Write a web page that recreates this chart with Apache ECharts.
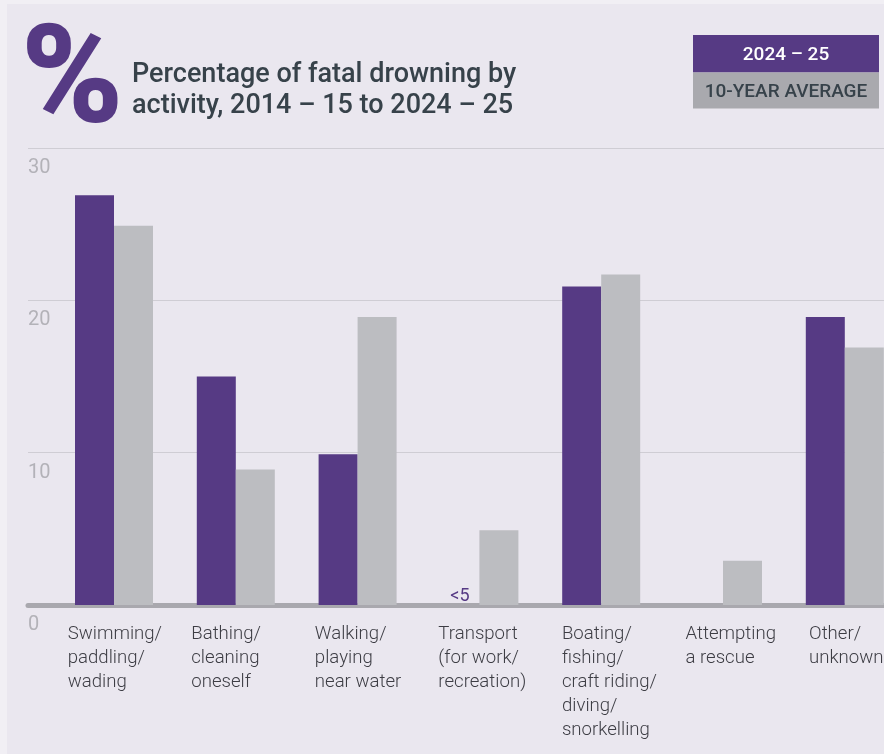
<!DOCTYPE html>
<html>
<head>
<meta charset="utf-8">
<title>Percentage of fatal drowning by activity</title>
<script src="https://cdn.jsdelivr.net/npm/echarts@6/dist/echarts.min.js"></script>
<style>
  html, body { margin: 0; padding: 0; overflow: hidden; background: #eae7ef; }
  /* chart runs past the right edge on purpose, the print version is cropped there */
  #chart { width: 960px; height: 754px; }
</style>
</head>
<body>
<div id="chart"></div>
<script>
// activity categories
const categories = [
  'Swimming/\npaddling/\nwading',
  'Bathing/\ncleaning\noneself',
  'Walking/\nplaying\nnear water',
  'Transport\n(for work/\nrecreation)',
  'Boating/\nfishing/\ncraft riding/\ndiving/\nsnorkelling',
  'Attempting\na rescue',
  'Other/\nunknown'
];
// 2024 – 25 share (%), null = not shown
const season2425 = [26.9, 15.0, 9.9, null, 20.9, null, 18.9];
// small values printed as text instead of a bar
const season2425Notes = [null, null, null, '<5', null, null, null];
// 10-year average share (%)
const tenYearAvg = [24.9, 8.9, 18.9, 4.9, 21.7, 2.9, 16.9];
// y axis
const yMin = 0;
const yMax = 30;
const yStep = 10;

const PURPLE = '#563a84';
const BAR_GREY = '#bcbdc1';
const LEGEND_GREY = '#a9a9ae';
const DARK = '#37424a';

const chart = echarts.init(document.getElementById('chart'));

const purpleData = season2425.map((v, i) => {
  if (season2425Notes[i]) {
    return {
      value: 0,
      label: {
        show: true,
        position: 'top',
        distance: 0,
        formatter: season2425Notes[i],
        color: PURPLE,
        fontSize: 18,
        fontFamily: 'Roboto'
      }
    };
  }
  return v === null ? '-' : v;
});

const gridTop = 148;
const gridBottom = 149;

const option = {
  backgroundColor: '#eae7ef',
  animation: false,
  grid: [
    // grid 0: gridlines, y labels, baseline
    { left: 28, right: 0, top: gridTop, bottom: gridBottom },
    // grid 1: bars
    { left: 53.1, width: 852.6, top: gridTop, bottom: gridBottom },
    // grid 2: category labels (left aligned under each group)
    { left: 67.7, width: 864.9, top: gridTop, bottom: gridBottom }
  ],
  xAxis: [
    {
      gridIndex: 0, type: 'category', data: categories,
      offset: 2.5,
      axisLine: { show: true, lineStyle: { color: '#a9a8ae', width: 5 } },
      axisTick: { show: false }, axisLabel: { show: false }
    },
    {
      gridIndex: 1, type: 'category', data: categories,
      axisLine: { show: false }, axisTick: { show: false }, axisLabel: { show: false }
    },
    {
      gridIndex: 2, type: 'category', data: categories.concat(['']),
      boundaryGap: false,
      axisLine: { show: false }, axisTick: { show: false },
      axisLabel: {
        interval: 0,
        align: 'left',
        verticalAlign: 'top',
        margin: 17,
        fontFamily: 'Roboto',
        fontWeight: 300,
        fontSize: 18.6,
        lineHeight: 24,
        color: '#3d3d44'
      }
    }
  ],
  yAxis: [
    {
      gridIndex: 0, type: 'value', min: yMin, max: yMax, interval: yStep,
      axisLine: { show: false }, axisTick: { show: false },
      splitLine: { show: true, lineStyle: { color: '#cfcdd4', width: 1 } },
      axisLabel: {
        inside: true,
        align: 'left',
        verticalAlign: 'top',
        margin: 0,
        padding: [10, 0, 0, 0],
        fontFamily: 'Roboto',
        fontSize: 20,
        color: '#b3b2b8'
      }
    },
    { gridIndex: 1, type: 'value', min: yMin, max: yMax, interval: yStep, show: false },
    { gridIndex: 2, type: 'value', min: yMin, max: yMax, interval: yStep, show: false }
  ],
  series: [
    {
      name: '2024 – 25',
      type: 'bar',
      xAxisIndex: 1, yAxisIndex: 1,
      barWidth: 39,
      barGap: '0%',
      itemStyle: { color: PURPLE },
      data: purpleData
    },
    {
      name: '10-YEAR AVERAGE',
      type: 'bar',
      xAxisIndex: 1, yAxisIndex: 1,
      barWidth: 39,
      barGap: '0%',
      itemStyle: { color: BAR_GREY },
      data: tenYearAvg
    }
  ],
  graphic: [
    // light page margin on the left and top
    { type: 'rect', shape: { x: 0, y: 0, width: 7, height: 754 }, style: { fill: '#f1eff4' }, silent: true },
    { type: 'rect', shape: { x: 0, y: 0, width: 960, height: 4 }, style: { fill: '#f1eff4' }, silent: true },
    // big percent sign
    {
      type: 'text', left: 21, top: 18,
      style: { text: '%', fill: PURPLE, font: '900 138px Roboto' }
    },
    // title
    {
      type: 'text', left: 132, top: 60,
      style: {
        text: 'Percentage of fatal drowning by\nactivity, 2014 – 15 to 2024 – 25',
        fill: DARK, font: '500 27px Roboto', lineHeight: 31
      }
    },
    // legend boxes
    { type: 'rect', shape: { x: 693, y: 35, width: 186, height: 37.5 }, style: { fill: PURPLE } },
    { type: 'rect', shape: { x: 693, y: 72.5, width: 186, height: 36 }, style: { fill: LEGEND_GREY } },
    {
      type: 'text', x: 786, y: 55,
      style: { text: '2024 – 25', fill: '#ffffff', font: '500 19px Roboto', align: 'center', verticalAlign: 'middle' }
    },
    {
      type: 'text', x: 786, y: 92,
      style: { text: '10-YEAR AVERAGE', fill: DARK, font: '500 19px Roboto', align: 'center', verticalAlign: 'middle' }
    }
  ]
};

chart.setOption(option);
</script>
</body>
</html>
